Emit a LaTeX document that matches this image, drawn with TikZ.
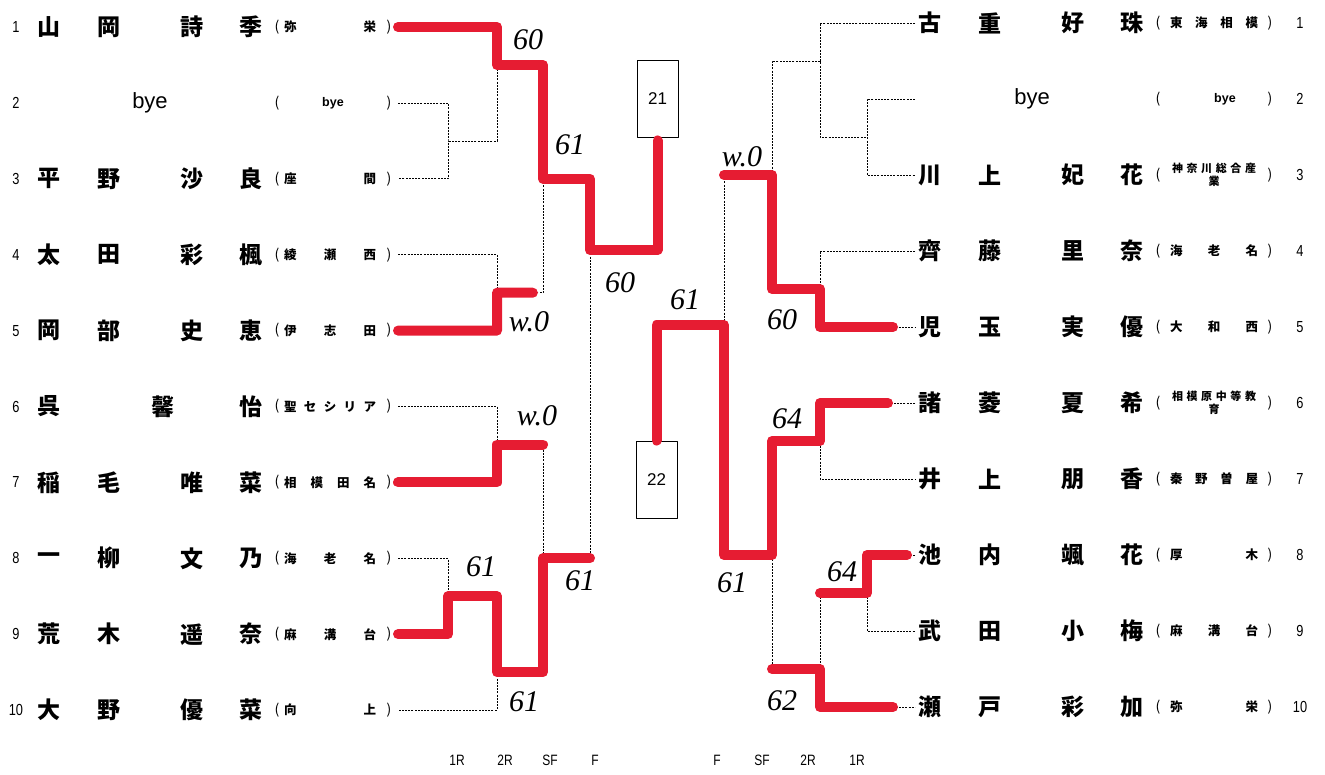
\documentclass[tikz,border=0pt]{standalone}
\usepackage{fontspec}
\setmainfont{Liberation Sans}
\newfontfamily\jp{Noto Sans CJK JP}
\newfontfamily\narrow{Liberation Sans}[FakeStretch=0.8]
\newfontfamily\hand{Liberation Serif}
\usetikzlibrary{calc}

\begin{document}
\begin{tikzpicture}[x=1pt,y=-1pt,line cap=round,line join=round]
  % ----- styles & colors -----
  \definecolor{marker}{RGB}{230,28,50}
  \tikzset{
    tmpl/.style={draw=black,line width=0.8pt,line cap=butt,dash pattern=on 2pt off 1.2pt},
    win/.style={draw=marker,line width=10pt},
    pname/.style={inner sep=0pt,font=\jp\bfseries\fontsize{23}{23}\selectfont},
    byename/.style={inner sep=0pt,font=\fontsize{22}{22}\selectfont},
    aff/.style={inner sep=0pt,font=\jp\bfseries\fontsize{12.5}{12.5}\selectfont},
    paren/.style={inner sep=0pt,font=\jp\fontsize{14}{14}\selectfont},
    afftwo/.style={inner sep=0pt,align=center,font=\jp\bfseries\fontsize{11}{13}\selectfont},
    num/.style={inner sep=0pt,font=\narrow\fontsize{16}{16}\selectfont},
    score/.style={inner sep=0pt,font=\hand\itshape\fontsize{30}{30}\selectfont},
    rnd/.style={inner sep=0pt,font=\narrow\fontsize{15}{15}\selectfont},
    seedbox/.style={draw=black,line width=0.9pt,minimum width=41pt,minimum height=77pt,font=\fontsize{17}{17}\selectfont}
  }
  \useasboundingbox (0,0) rectangle (1325,774);

  % ----- row ends -----
  \foreach \r in {1,...,10}{
    \coordinate (L\r) at (398,{27+(\r-1)*75.9});
    \coordinate (R\r) at (915,{23+(\r-1)*76});
  }

  % ----- left players -----
  \foreach \r/\a/\b/\c/\d/\s in {1/山/岡/詩/季/{弥\hfill 栄},3/平/野/沙/良/{座\hfill 間},
      4/太/田/彩/楓/{綾\hfill 瀬\hfill 西},5/岡/部/史/恵/{伊\hfill 志\hfill 田},
      7/稲/毛/唯/菜/{相\hfill 模\hfill 田\hfill 名},8/一/柳/文/乃/{海\hfill 老\hfill 名},
      9/荒/木/遥/奈/{麻\hfill 溝\hfill 台},10/大/野/優/菜/{向\hfill 上}}{
    \pgfmathsetmacro\y{27+(\r-1)*75.9}
    \node[num] (ln\r) at (16,\y) {\r};
    \node[pname] (lna\r) at (49,\y) {\a};
    \node[pname] (lnb\r) at (109,\y) {\b};
    \node[pname] (lnc\r) at (192,\y) {\c};
    \node[pname] (lnd\r) at (251,\y) {\d};
    \node[paren] (lo\r) at (277,\y) {(};
    \node[aff] (ls\r) at (330,\y) {\makebox[92pt]{\s}};
    \node[paren] (lc\r) at (389,\y) {)};
  }
  \node[num] (ln2) at (16,102.9) {2};
  \node[byename] (lna2) at (150,102.9) {bye};
  \node[paren] (lo2) at (277,102.9) {(};
  \node[aff,font=\bfseries\fontsize{12.5}{12.5}\selectfont] (ls2) at (333,102.9) {bye};
  \node[paren] (lc2) at (389,102.9) {)};
  \node[num] (ln6) at (16,406.5) {6};
  \node[pname] (lna6) at (49,406.5) {呉};
  \node[pname] (lnb6) at (163,406.5) {馨};
  \node[pname] (lnd6) at (251,406.5) {怡};
  \node[paren] (lo6) at (277,406.5) {(};
  \node[aff] (ls6) at (330,406.5) {\makebox[92pt]{聖\hfill セ\hfill シ\hfill リ\hfill ア}};
  \node[paren] (lc6) at (389,406.5) {)};

  % ----- right players -----
  \foreach \r/\a/\b/\c/\d/\s in {1/古/重/好/珠/{東\hfill 海\hfill 相\hfill 模},
      4/齊/藤/里/奈/{海\hfill 老\hfill 名},5/児/玉/実/優/{大\hfill 和\hfill 西},
      7/井/上/朋/香/{秦\hfill 野\hfill 曽\hfill 屋},8/池/内/颯/花/{厚\hfill 木},
      9/武/田/小/梅/{麻\hfill 溝\hfill 台},10/瀬/戸/彩/加/{弥\hfill 栄}}{
    \pgfmathsetmacro\y{23+(\r-1)*76}
    \node[pname] (rna\r) at (930,\y) {\a};
    \node[pname] (rnb\r) at (990,\y) {\b};
    \node[pname] (rnc\r) at (1073,\y) {\c};
    \node[pname] (rnd\r) at (1132,\y) {\d};
    \node[paren] (ro\r) at (1158,\y) {(};
    \node[aff] (rs\r) at (1214,\y) {\makebox[88pt]{\s}};
    \node[paren] (rc\r) at (1270,\y) {)};
    \node[num] (rn\r) at (1300,\y) {\r};
  }
  \node[byename] (rna2) at (1032,99) {bye};
  \node[paren] (ro2) at (1158,99) {(};
  \node[aff,font=\bfseries\fontsize{12.5}{12.5}\selectfont] (rs2) at (1225,99) {bye};
  \node[paren] (rc2) at (1270,99) {)};
  \node[num] (rn2) at (1300,99) {2};
  \foreach \r/\a/\b/\c/\d/\s/\t in {3/川/上/妃/花/{神\hfill 奈\hfill 川\hfill 総\hfill 合\hfill 産}/業,
      6/諸/菱/夏/希/{相\hfill 模\hfill 原\hfill 中\hfill 等\hfill 教}/育}{
    \pgfmathsetmacro\y{23+(\r-1)*76}
    \node[pname] (rna\r) at (930,\y) {\a};
    \node[pname] (rnb\r) at (990,\y) {\b};
    \node[pname] (rnc\r) at (1073,\y) {\c};
    \node[pname] (rnd\r) at (1132,\y) {\d};
    \node[paren] (ro\r) at (1158,\y) {(};
    \node[afftwo] (rs\r) at (1214,\y) {\makebox[84pt]{\s}\\\t};
    \node[paren] (rc\r) at (1270,\y) {)};
    \node[num] (rn\r) at (1300,\y) {\r};
  }

  % ----- bracket joins -----
  \coordinate (a23) at (448,140.9);
  \coordinate (b1) at (497,65);
  \coordinate (b45) at (497,292.7);
  \coordinate (s14) at (543,178.8);
  \coordinate (fL) at (590,250);
  \coordinate (b67) at (497,444.5);
  \coordinate (a89) at (448,596.3);
  \coordinate (b10) at (497,672.2);
  \coordinate (s610) at (543,558.3);

  \coordinate (ra23) at (867,137);
  \coordinate (rb1) at (820,61);
  \coordinate (rb45) at (820,289);
  \coordinate (rs14) at (772,175);
  \coordinate (rf) at (724,325);
  \coordinate (rb67) at (820,441);
  \coordinate (ra89) at (867,593);
  \coordinate (rb10) at (820,669);
  \coordinate (rs610) at (772,555);

  % ----- seed boxes -----
  \node[seedbox] (b21) at (657.5,98.5) {21};
  \node[seedbox] (b22) at (656.5,479.5) {22};

  % ----- printed bracket -----
  \draw[tmpl] (L2) -| (a23) |- (L3);
  \draw[tmpl] (L1) -| (b1) |- (a23);
  \draw[tmpl] (L4) -| (b45) |- (L5);
  \draw[tmpl] (b1) -| (s14) |- (b45);
  \draw[tmpl] (L6) -| (b67) |- (L7);
  \draw[tmpl] (L8) -| (a89) |- (L9);
  \draw[tmpl] (a89) -| (b10) |- (L10);
  \draw[tmpl] (b67) -| (s610) |- (b10);
  \draw[tmpl] (s14) -| (fL) |- (s610);

  \draw[tmpl] (R2) -| (ra23) |- (R3);
  \draw[tmpl] (R1) -| (rb1) |- (ra23);
  \draw[tmpl] (R4) -| (rb45) |- (R5);
  \draw[tmpl] (rb1) -| (rs14) |- (rb45);
  \draw[tmpl] (R6) -| (rb67) |- (R7);
  \draw[tmpl] (R8) -| (ra89) |- (R9);
  \draw[tmpl] (ra89) -| (rb10) |- (R10);
  \draw[tmpl] (rb67) -| (rs610) |- (rb10);
  \draw[tmpl] (rs14) -| (rf) |- (rs610);

  % ----- red marker (winners) -----
  \draw[win,shorten >=3pt] (L1) -| (b1) -| (s14) -| (fL) -| (b21);
  \draw[win] (L5) -| (b45) -- ($(b45)!0.78!(b45 -| s14)$);
  \draw[win] (L7) -| (b67) -- (b67 -| s610);
  \draw[win] (L9) -| (a89) -| (b10) -| (s610) -- (s610 -| fL);

  \draw[win,shorten <=22pt] (R5) -| (rb45) -| (rs14) -- (rs14 -| rf);
  \draw[win,shorten <=27pt] (R6) -| (rb67) -| (rs610) -| (rf) -| (b22);
  \draw[win,shorten <=8pt] (R8) -| (ra89) -- (ra89 -| rb10);
  \draw[win,shorten <=22pt] (R10) -| (rb10) -- (rb10 -| rs610);

  % ----- scores -----
  \node[score] (sc1) at (528,40) {60};
  \node[score] (sc2) at (570,145) {61};
  \node[score] (sc3) at (620,283) {60};
  \node[score] (sc4) at (529,322) {w.0};
  \node[score] (sc5) at (537,416) {w.0};
  \node[score] (sc6) at (481,567) {61};
  \node[score] (sc7) at (580,581) {61};
  \node[score] (sc8) at (524,702) {61};
  \node[score] (sc9) at (685,300) {61};
  \node[score] (sc10) at (742,157) {w.0};
  \node[score] (sc11) at (782,320) {60};
  \node[score] (sc12) at (787,419) {64};
  \node[score] (sc13) at (732,583) {61};
  \node[score] (sc14) at (842,572) {64};
  \node[score] (sc15) at (782,701) {62};

  % ----- round labels -----
  \foreach \x/\t [count=\i] in {457/1R,505/2R,550/SF,595/F,717/F,762/SF,808/2R,857/1R}{
    \node[rnd] (rd\i) at (\x,760) {\t};
  }
\end{tikzpicture}
\end{document}
